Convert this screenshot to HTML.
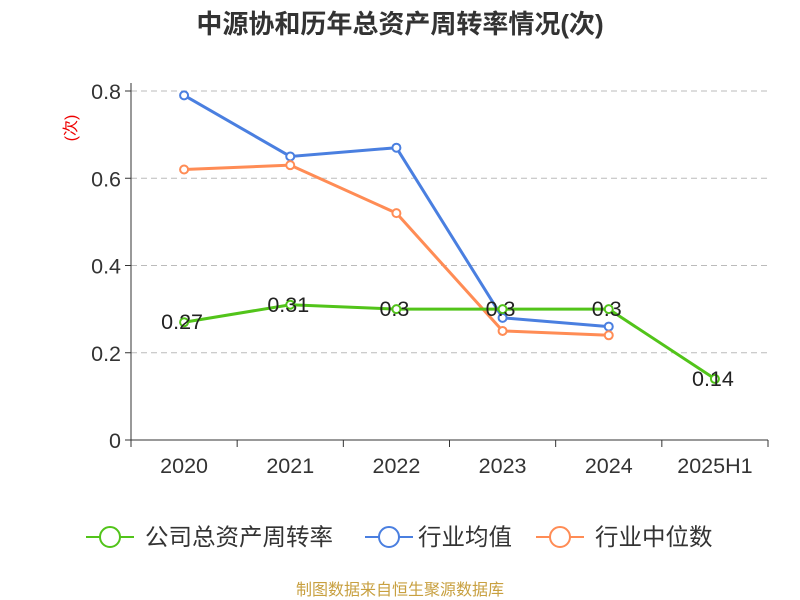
<!DOCTYPE html>
<html><head><meta charset="utf-8"><style>
body{margin:0;background:#fff;}
svg{display:block;font-family:"Liberation Sans","Noto Sans CJK SC",sans-serif;}
</style></head><body>
<svg id="chart" width="800" height="600">
<text x="400" y="33" text-anchor="middle" font-size="26" font-weight="bold" fill="#333">中源协和历年总资产周转率情况(次)</text>
<text x="0" y="0" transform="translate(76,128) rotate(-90)" text-anchor="middle" font-size="16" fill="#e00">(次)</text>
<g id="grid"></g><g id="axes"></g><g id="series"></g>
<g>
<g><line x1="86" y1="537" x2="134" y2="537" stroke="#52c41a" stroke-width="2"/><circle cx="110" cy="537" r="10" fill="#fff" stroke="#52c41a" stroke-width="2"/><text x="145" y="545" font-size="23.5" fill="#333">公司总资产周转率</text></g>
<g><line x1="365" y1="537" x2="413" y2="537" stroke="#4a7fe0" stroke-width="2"/><circle cx="389" cy="537" r="10" fill="#fff" stroke="#4a7fe0" stroke-width="2"/><text x="418" y="545" font-size="23.5" fill="#333">行业均值</text></g>
<g><line x1="536" y1="537" x2="584" y2="537" stroke="#ff8c55" stroke-width="2"/><circle cx="560" cy="537" r="10" fill="#fff" stroke="#ff8c55" stroke-width="2"/><text x="595" y="545" font-size="23.5" fill="#333">行业中位数</text></g>
</g>
<text x="400" y="595" text-anchor="middle" font-size="16" fill="#c8a040">制图数据来自恒生聚源数据库</text>
</svg>
<script>
const categories=["2020","2021","2022","2023","2024","2025H1"];
const companyValues=[0.27,0.31,0.3,0.3,0.3,0.14];
const companyLabels=["0.27","0.31","0.3","0.3","0.3","0.14"];
const industryAvg=[0.79,0.65,0.67,0.28,0.26];
const industryMedian=[0.62,0.63,0.52,0.25,0.24];
const yTicks=[0,0.2,0.4,0.6,0.8];
const yTickLabels=["0","0.2","0.4","0.6","0.8"];
const NS="http://www.w3.org/2000/svg";
const x0=131,x1=768,yb=440,yt=91,ymax=0.8;
const bw=(x1-x0)/categories.length;
const xs=i=>x0+bw*(i+0.5);
const ys=v=>yb-(v/ymax)*(yb-yt);
function mk(tag,attrs,parent,text){const e=document.createElementNS(NS,tag);for(const k in attrs)e.setAttribute(k,attrs[k]);if(text!==undefined)e.textContent=text;parent.appendChild(e);return e;}
const grid=document.getElementById('grid'),axes=document.getElementById('axes'),ser=document.getElementById('series');
yTicks.forEach((t,i)=>{
 if(t>0){const g=mk('line',{x1:x0,x2:x1,y1:ys(t),y2:ys(t),stroke:'#bbb','stroke-dasharray':'6,4'},grid);
 
 }
 const tk=mk('line',{x1:x0-6,x2:x0,y1:ys(t),y2:ys(t),stroke:'#333'},axes);
 
 
 const lb=mk('text',{x:x0-10,y:ys(t)+8,'text-anchor':'end','font-size':21.5,fill:'#333'},axes,yTickLabels[i]);
 
 
});
const ya=mk('line',{x1:x0,x2:x0,y1:yt-8,y2:yb,stroke:'#333'},axes);


const xa=mk('line',{x1:x0,x2:x1,y1:yb,y2:yb,stroke:'#333'},axes);


for(let i=0;i<=categories.length;i++){const t=mk('line',{x1:x0+bw*i,x2:x0+bw*i,y1:yb,y2:yb+7,stroke:'#333'},axes);
 
 }
categories.forEach((c,i)=>{const t=mk('text',{x:xs(i),y:yb+33,'text-anchor':'middle','font-size':21.5,fill:'#333'},axes,c);
 
 });
function series(vals,color,name){
 const p=mk('polyline',{points:vals.map((v,i)=>xs(i)+','+ys(v)).join(' '),fill:'none',stroke:color,'stroke-width':3},ser);
 
 
 vals.forEach((v,i)=>{const c=mk('circle',{cx:xs(i),cy:ys(v),r:4,fill:'#fff',stroke:color,'stroke-width':2},ser);
 
 });
}
series(industryAvg,'#4a7fe0','industry-avg');
series(industryMedian,'#ff8c55','industry-median');
series(companyValues,'#52c41a','company');
companyValues.forEach((v,i)=>{const t=mk('text',{x:xs(i)-2,y:ys(v)+7,'text-anchor':'middle','font-size':21.5,fill:'#222'},ser,companyLabels[i]);
 
 });
</script>
</body></html>
